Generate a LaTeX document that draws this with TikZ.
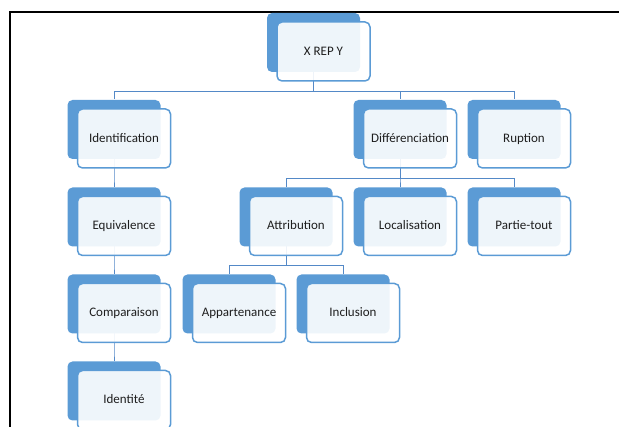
\documentclass[tikz,border=0pt]{standalone}
\usepackage{fontspec}
\setmainfont{Carlito}
\usetikzlibrary{positioning, shadows, backgrounds}
\definecolor{boxblue}{RGB}{91,155,213}
\definecolor{linkblue}{RGB}{84,137,199}
\definecolor{txtgray}{RGB}{30,30,30}

\begin{document}
\begin{tikzpicture}[
            x = 1pt, y = 1pt,
            node distance = 114pt,
            on grid,
            box/.style = {
                rectangle, rounded corners = 5pt,
                minimum width = 93pt, minimum height = 59pt,
                text height = 1.8ex, text depth = .2ex,
                draw = boxblue, line width = 1.5pt,
                fill = white, fill opacity = 0.9, text opacity = 1,
                text = txtgray, font = \fontsize{13}{15}\selectfont,
                copy shadow = {shadow xshift = -10pt, shadow yshift = 9pt,
                    fill = boxblue, draw = none, fill opacity = 1}
            },
            tree/.style = {
                draw = linkblue, line width = 1pt,
                to path = {([xshift=-10pt]\tikztostart.center)
                    -- ([xshift=-10pt, yshift=-9.5pt]\tikztostart.south)
                    -| ([xshift=-10pt, yshift=9pt]\tikztotarget.north)}
            }
        ]
        \useasboundingbox (0,0) rectangle (619,-427);

        \node[box] (xrep) at (323.5,-51.5) {X REP Y};
        \node[box] (idf) at (124,-138.5) {Identification};
        \node[box, below=87.5pt of idf] (equ) {Equivalence};
        \node[box, below=87pt of equ] (cmp) {Comparaison};
        \node[box, below=87pt of cmp] (idt) {Identité};
        \node[box] (dif) at (410,-138.5) {Différenciation};
        \node[box, right=of dif] (rup) {Ruption};
        \node[box, below=87.5pt of dif] (loc) {Localisation};
        \node[box, left=of loc] (att) {Attribution};
        \node[box, right=of loc] (prt) {Partie-tout};
        \node[box, below left=87pt and 57pt of att] (app) {Appartenance};
        \node[box, right=of app] (inc) {Inclusion};

        \begin{scope}[on background layer]
            \draw[line width = 2pt] (9.5,-427) -- (9.5,-12) -- (619,-12);

            \path (xrep) edge[tree] (idf);
            \path (xrep) edge[tree] (dif);
            \path (xrep) edge[tree] (rup);
            \path (idf) edge[tree] (equ);
            \path (equ) edge[tree] (cmp);
            \path (cmp) edge[tree] (idt);
            \path (dif) edge[tree] (att);
            \path (dif) edge[tree] (loc);
            \path (dif) edge[tree] (prt);
            \path (att) edge[tree] (app);
            \path (att) edge[tree] (inc);
        \end{scope}
    \end{tikzpicture}
\end{document}
